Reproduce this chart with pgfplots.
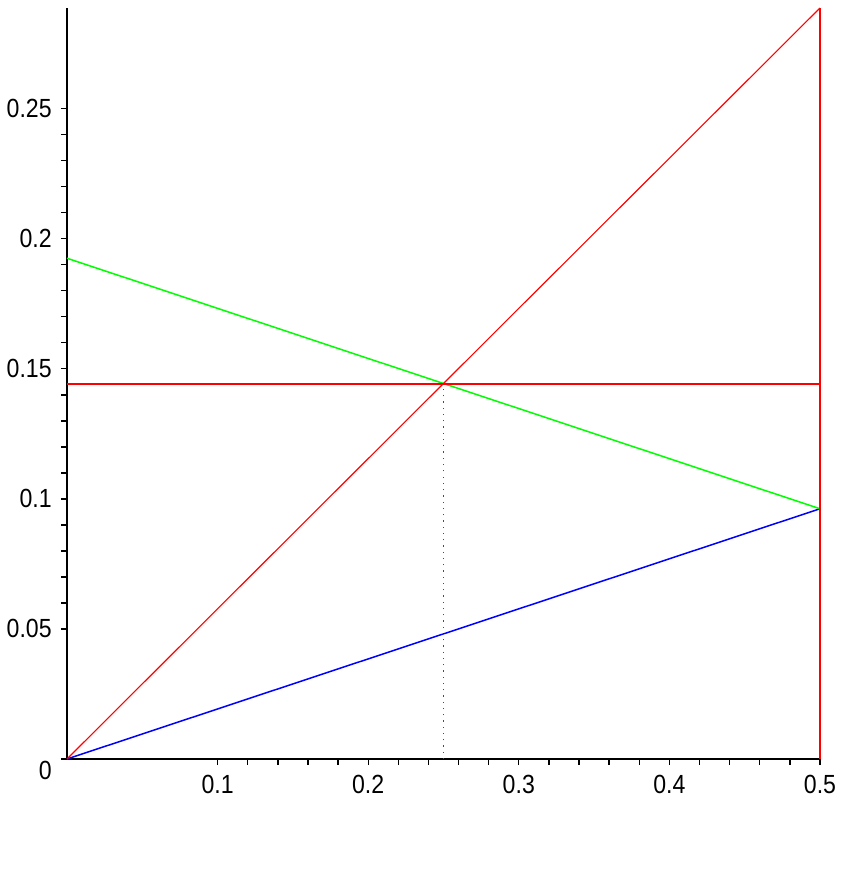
\documentclass[border=0pt]{standalone}
\usepackage{fontspec}
\setmainfont{Liberation Sans}
\newfontfamily\tickfont[FakeStretch=0.88]{Liberation Sans}
\usepackage{pgfplots}
\pgfplotsset{compat=1.18}
\begin{document}
\begin{tikzpicture}
\useasboundingbox (-26.8pt,-44.8pt) rectangle (313.2pt,303.6pt);
\begin{axis}[
  at={(0,0)}, anchor=origin,
  scale only axis, width=301.2pt, height=300.4pt,
  xmin=0, xmax=0.5, ymin=0, ymax=0.2887,
  axis lines=left, axis line style={-, line width=0.7pt},
  clip=false,
  xtick={0.1,0.2,0.3,0.4,0.5},
  ytick={0.05,0.1,0.15,0.2,0.25},
  extra y ticks={0},
  extra y tick style={yticklabel style={yshift=-4.4pt}},
  xticklabels={0.1,0.2,0.3,0.4,0.5},
  yticklabels={0.05,0.1,0.15,0.2,0.25},
  extra y tick labels={0},
  minor x tick num=4, minor y tick num=4,
  tick align=outside,
  major tick length=2.4pt, minor tick length=2.2pt,
  tick style={black, line width=0.55pt},
  /pgf/number format/assume math mode=true,
  ticklabel style={font=\tickfont\fontsize{10.5pt}{12pt}\selectfont},
  xticklabel style={yshift=-0.6pt},
  yticklabel style={xshift=-0.2pt},
]
\addplot[black!70, dotted, line width=0.5pt] coordinates {(0.25,0) (0.25,0.1443)};
\addplot[blue, line width=0.6pt] coordinates {(0,0) (0.5,0.0962)};
\addplot[green, line width=0.6pt] coordinates {(0,0.1925) (0.5,0.0962)};
\addplot[red, line width=0.45pt] coordinates {(0,0) (0.5,0.2887)};
\addplot[red, line width=0.8pt] coordinates {(0,0.1443) (0.5,0.1443)};
\addplot[red, line width=0.7pt] coordinates {(0.5,0) (0.5,0.2887)};
\end{axis}
\end{tikzpicture}
\end{document}
